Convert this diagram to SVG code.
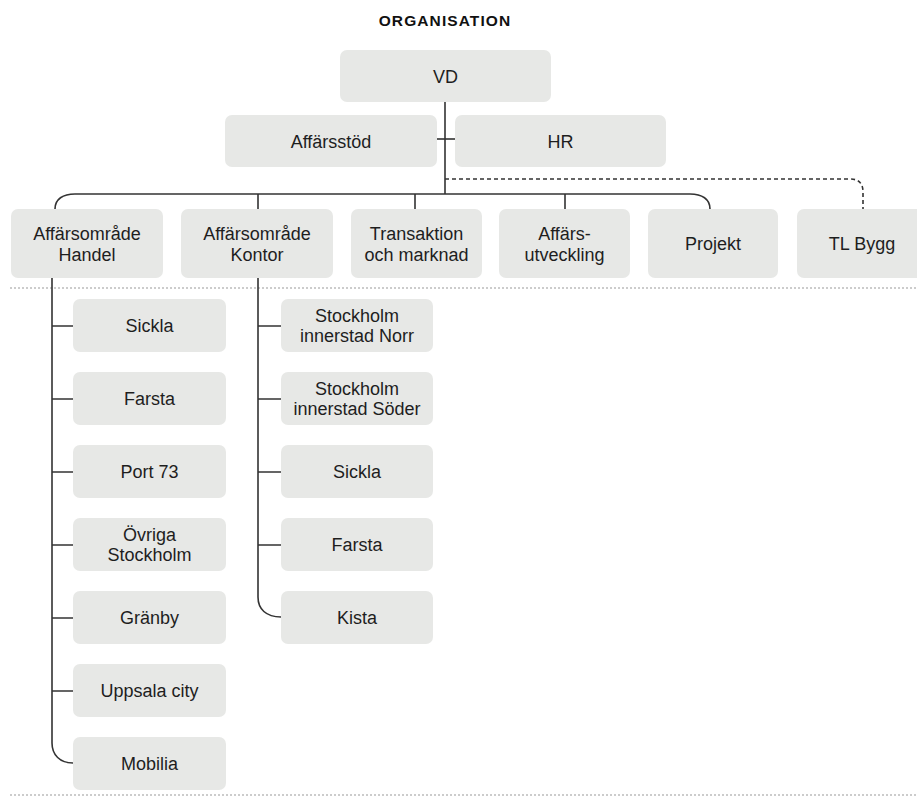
<svg xmlns="http://www.w3.org/2000/svg" width="917" height="796" viewBox="0 0 917 796">
<style>
.box{fill:#e7e8e6}
.t{font-family:"Liberation Sans",Arial,sans-serif;font-size:18px;fill:#1e1e1e;text-anchor:middle}
.title{font-family:"Liberation Sans",Arial,sans-serif;font-size:15.5px;font-weight:bold;letter-spacing:1.1px;fill:#111;text-anchor:middle}
.ln{fill:none;stroke:#333;stroke-width:1.6}
.dash{fill:none;stroke:#333;stroke-width:1.6;stroke-dasharray:4 3}
.sep{fill:none;stroke:#999;stroke-width:1;stroke-dasharray:2 2}
</style>
<rect width="917" height="796" fill="#fff"/>
<text class="title" x="445" y="26">ORGANISATION</text>
<g id="connectors">
<line class="sep" x1="10" y1="288" x2="917" y2="288"/>
<line class="sep" x1="10" y1="795" x2="917" y2="795"/>
<path class="ln" d="M445,102 V194"/>
<path class="ln" d="M437,139 H455"/>
<path class="ln" d="M55,209 C55,199 63,194 75,194 H690 C702,194 710,199 710,209"/>
<path class="ln" d="M258,194 V209 M415,194 V209 M565,194 V209"/>
<path class="dash" d="M445,179 H850 Q863,179 863,192 V209"/>
<path class="ln" d="M52,278 V743 C52,755 60,763 73,763"/>
<path class="ln" d="M52,326 H73 M52,399 H73 M52,472 H73 M52,545 H73 M52,618 H73 M52,691 H73"/>
<path class="ln" d="M258,278 V597 C258,609 266,617 281,617"/>
<path class="ln" d="M258,326 H281 M258,399 H281 M258,472 H281 M258,545 H281"/>
</g>
<g id="vd"><rect class="box" x="340" y="50" width="211" height="52" rx="7"/><text class="t" x="445.5" y="82.5">VD</text></g>
<g id="affarsstod"><rect class="box" x="225" y="115" width="212" height="52" rx="7"/><text class="t" x="331" y="147.5">Affärsstöd</text></g>
<g id="hr"><rect class="box" x="455" y="115" width="211" height="52" rx="7"/><text class="t" x="560.5" y="147.5">HR</text></g>
<g id="handel"><rect class="box" x="11" y="209" width="152" height="69" rx="7"/><text class="t" x="87" y="240">Affärsområde</text><text class="t" x="87" y="261">Handel</text></g>
<g id="kontor"><rect class="box" x="181" y="209" width="152" height="69" rx="7"/><text class="t" x="257" y="240">Affärsområde</text><text class="t" x="257" y="261">Kontor</text></g>
<g id="transaktion"><rect class="box" x="351" y="209" width="131" height="69" rx="7"/><text class="t" x="416.5" y="240">Transaktion</text><text class="t" x="416.5" y="261">och marknad</text></g>
<g id="affarsutveckling"><rect class="box" x="499" y="209" width="131" height="69" rx="7"/><text class="t" x="564.5" y="240">Affärs-</text><text class="t" x="564.5" y="261">utveckling</text></g>
<g id="projekt"><rect class="box" x="648" y="209" width="130" height="69" rx="7"/><text class="t" x="713" y="250">Projekt</text></g>
<g id="tlbygg"><rect class="box" x="797" y="209" width="131" height="69" rx="7"/><text class="t" x="862" y="250">TL Bygg</text></g>
<g id="h-sickla"><rect class="box" x="73" y="299" width="153" height="53" rx="7"/><text class="t" x="149.5" y="332">Sickla</text></g>
<g id="h-farsta"><rect class="box" x="73" y="372" width="153" height="53" rx="7"/><text class="t" x="149.5" y="405">Farsta</text></g>
<g id="h-port73"><rect class="box" x="73" y="445" width="153" height="53" rx="7"/><text class="t" x="149.5" y="478">Port 73</text></g>
<g id="h-ovriga"><rect class="box" x="73" y="518" width="153" height="53" rx="7"/><text class="t" x="149.5" y="541">Övriga</text><text class="t" x="149.5" y="561">Stockholm</text></g>
<g id="h-granby"><rect class="box" x="73" y="591" width="153" height="53" rx="7"/><text class="t" x="149.5" y="624">Gränby</text></g>
<g id="h-uppsala"><rect class="box" x="73" y="664" width="153" height="53" rx="7"/><text class="t" x="149.5" y="697">Uppsala city</text></g>
<g id="h-mobilia"><rect class="box" x="73" y="737" width="153" height="53" rx="7"/><text class="t" x="149.5" y="770">Mobilia</text></g>
<g id="k-norr"><rect class="box" x="281" y="299" width="152" height="53" rx="7"/><text class="t" x="357" y="322">Stockholm</text><text class="t" x="357" y="342">innerstad Norr</text></g>
<g id="k-soder"><rect class="box" x="281" y="372" width="152" height="53" rx="7"/><text class="t" x="357" y="395">Stockholm</text><text class="t" x="357" y="415">innerstad Söder</text></g>
<g id="k-sickla"><rect class="box" x="281" y="445" width="152" height="53" rx="7"/><text class="t" x="357" y="478">Sickla</text></g>
<g id="k-farsta"><rect class="box" x="281" y="518" width="152" height="53" rx="7"/><text class="t" x="357" y="551">Farsta</text></g>
<g id="k-kista"><rect class="box" x="281" y="591" width="152" height="53" rx="7"/><text class="t" x="357" y="624">Kista</text></g>
</svg>
